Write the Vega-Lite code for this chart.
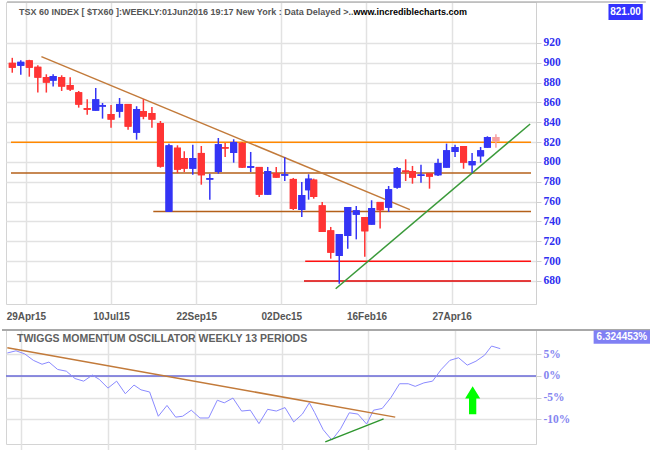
{
  "$schema": "https://vega.github.io/schema/vega-lite/v6.json",
  "background": "white",
  "padding": {"left": 0, "top": 0, "right": 0, "bottom": 0},
  "bounds": "flush",
  "spacing": 26,
  "resolve": {"scale": {"color": "independent"}},
  "config": {
    "view": {"stroke": "#d4d4d4", "strokeWidth": 1},
    "axis": {"gridColor": "#e2e2e2", "gridWidth": 1.5, "title": null}
  },
  "datasets": {
    "candles": [
      {"d": 0, "open": 900, "high": 905, "low": 890, "close": 895},
      {"d": 5, "open": 897, "high": 902.5, "low": 888, "close": 901},
      {"d": 10, "open": 902.5, "high": 903, "low": 886, "close": 895},
      {"d": 15, "open": 896, "high": 897.5, "low": 870, "close": 885},
      {"d": 20, "open": 885.7, "high": 888.4, "low": 870, "close": 880},
      {"d": 24, "open": 882, "high": 888.4, "low": 876, "close": 886.7},
      {"d": 29, "open": 885.7, "high": 887.4, "low": 871.6, "close": 876},
      {"d": 34, "open": 877.6, "high": 885.4, "low": 871.6, "close": 873},
      {"d": 39, "open": 870.3, "high": 871.6, "low": 854.8, "close": 857.8},
      {"d": 44, "open": 854.4, "high": 863.2, "low": 847.7, "close": 852.6},
      {"d": 49, "open": 851.7, "high": 874.6, "low": 851.7, "close": 863.2},
      {"d": 53, "open": 855.8, "high": 859.5, "low": 843.7, "close": 857.3},
      {"d": 58, "open": 848.4, "high": 857.5, "low": 834.6, "close": 842.7},
      {"d": 63, "open": 850.7, "high": 864.5, "low": 844.7, "close": 858.5},
      {"d": 68, "open": 858.5, "high": 858.5, "low": 832.6, "close": 835.6},
      {"d": 73, "open": 829.5, "high": 856.2, "low": 822.5, "close": 853.4},
      {"d": 77, "open": 851.4, "high": 863.2, "low": 843.1, "close": 845.7},
      {"d": 82, "open": 849.4, "high": 855.5, "low": 834.6, "close": 842.7},
      {"d": 87, "open": 839.3, "high": 841.3, "low": 794.3, "close": 795.3},
      {"d": 92, "open": 749.6, "high": 818.5, "low": 749.6, "close": 816.8},
      {"d": 97, "open": 814.4, "high": 816.8, "low": 788.9, "close": 792.2},
      {"d": 101, "open": 804, "high": 810.8, "low": 789.9, "close": 793.2},
      {"d": 106, "open": 793.2, "high": 817.4, "low": 787.2, "close": 804},
      {"d": 111, "open": 809.1, "high": 816.1, "low": 777.1, "close": 786.6},
      {"d": 116, "open": 782.2, "high": 788.2, "low": 762, "close": 783.7},
      {"d": 121, "open": 789.9, "high": 824.2, "low": 788.2, "close": 817.9},
      {"d": 125, "open": 815, "high": 819.2, "low": 805, "close": 813.5},
      {"d": 130, "open": 809.1, "high": 822.9, "low": 799.3, "close": 820.2},
      {"d": 135, "open": 819.2, "high": 820.2, "low": 794, "close": 794.3},
      {"d": 140, "open": 794.2, "high": 810.1, "low": 789.9, "close": 795.8},
      {"d": 145, "open": 795, "high": 795, "low": 764.7, "close": 767},
      {"d": 150, "open": 767, "high": 795, "low": 767, "close": 790.9},
      {"d": 155, "open": 788.9, "high": 795, "low": 784, "close": 784.2},
      {"d": 160, "open": 786.2, "high": 804.7, "low": 780.8, "close": 787.7},
      {"d": 165, "open": 782.9, "high": 783.9, "low": 751.6, "close": 752.6},
      {"d": 170, "open": 751.6, "high": 779.8, "low": 744.5, "close": 766.7},
      {"d": 174, "open": 771.5, "high": 787.6, "low": 762, "close": 783.2},
      {"d": 177, "open": 782.2, "high": 783.2, "low": 763, "close": 764.7},
      {"d": 182, "open": 756.3, "high": 759.7, "low": 729.4, "close": 729.4},
      {"d": 187, "open": 731.1, "high": 734.5, "low": 702.5, "close": 708.5},
      {"d": 192, "open": 705.2, "high": 727.4, "low": 677.3, "close": 727.4},
      {"d": 197, "open": 725.4, "high": 754.6, "low": 712.6, "close": 754.6},
      {"d": 202, "open": 746.8, "high": 755.6, "low": 722, "close": 751.3},
      {"d": 207, "open": 744.5, "high": 744.5, "low": 704.5, "close": 730.1},
      {"d": 211, "open": 736.8, "high": 761.4, "low": 736.8, "close": 753.6},
      {"d": 216, "open": 759.7, "high": 759.7, "low": 732.8, "close": 751.3},
      {"d": 221, "open": 753.9, "high": 775.8, "low": 749.6, "close": 772.5},
      {"d": 226, "open": 774.1, "high": 794.9, "low": 773, "close": 793.9},
      {"d": 231, "open": 791.4, "high": 802.7, "low": 780.8, "close": 789.8},
      {"d": 235, "open": 790.9, "high": 796, "low": 778.1, "close": 784.2},
      {"d": 240, "open": 785.9, "high": 797.3, "low": 779.1, "close": 787.4},
      {"d": 245, "open": 788.6, "high": 788.6, "low": 773.1, "close": 785.2},
      {"d": 250, "open": 786.6, "high": 803.3, "low": 785.9, "close": 799},
      {"d": 255, "open": 794.3, "high": 818.5, "low": 794.3, "close": 811.8},
      {"d": 260, "open": 810.1, "high": 817.4, "low": 805, "close": 815.1},
      {"d": 265, "open": 816.1, "high": 816.1, "low": 793.2, "close": 799.3},
      {"d": 270, "open": 796.7, "high": 809.1, "low": 789.2, "close": 801},
      {"d": 275, "open": 805.7, "high": 815.1, "low": 799.3, "close": 811.8},
      {"d": 279, "open": 814.4, "high": 825.9, "low": 814.4, "close": 825.2},
      {"d": 284, "open": 825.2, "high": 828, "low": 814.4, "close": 821}
    ],
    "osc": [
      {"d": 0, "v": 5.3}, {"d": 5, "v": 5.8}, {"d": 10, "v": 5.1}, {"d": 15, "v": 3.6},
      {"d": 20, "v": 2.7}, {"d": 24, "v": 3.2}, {"d": 29, "v": 1.5}, {"d": 34, "v": 1.1},
      {"d": 39, "v": -0.6}, {"d": 44, "v": -1.2}, {"d": 49, "v": 0.2}, {"d": 53, "v": -0.8},
      {"d": 58, "v": -2.8}, {"d": 63, "v": -1.2}, {"d": 68, "v": -4.1}, {"d": 73, "v": -2.1},
      {"d": 77, "v": -3.2}, {"d": 82, "v": -3.7}, {"d": 87, "v": -9.3}, {"d": 92, "v": -6.8},
      {"d": 97, "v": -9.5}, {"d": 101, "v": -9.3}, {"d": 106, "v": -7.9}, {"d": 111, "v": -9.7},
      {"d": 116, "v": -9.7}, {"d": 121, "v": -5.6}, {"d": 125, "v": -6.2}, {"d": 130, "v": -5.1},
      {"d": 135, "v": -8.1}, {"d": 140, "v": -7.9}, {"d": 145, "v": -11.0}, {"d": 150, "v": -7.7},
      {"d": 155, "v": -8.1}, {"d": 160, "v": -7.3}, {"d": 165, "v": -10.6}, {"d": 170, "v": -8.8},
      {"d": 174, "v": -6.2}, {"d": 177, "v": -8.4}, {"d": 182, "v": -12.4}, {"d": 187, "v": -14.8},
      {"d": 192, "v": -12.2}, {"d": 197, "v": -8.5}, {"d": 202, "v": -8.8}, {"d": 207, "v": -11.1},
      {"d": 211, "v": -7.9}, {"d": 216, "v": -7.5}, {"d": 221, "v": -5.0}, {"d": 226, "v": -1.8},
      {"d": 231, "v": -1.8}, {"d": 235, "v": -2.4}, {"d": 240, "v": -1.6}, {"d": 245, "v": -1.2},
      {"d": 250, "v": 1.5}, {"d": 255, "v": 3.6}, {"d": 260, "v": 4.2}, {"d": 265, "v": 2.5},
      {"d": 270, "v": 3.4}, {"d": 275, "v": 4.8}, {"d": 279, "v": 6.9}, {"d": 284, "v": 6.3}
    ],
    "levels": [
      {"name": "r820", "level": 820, "d": -0.75, "d2": 304.6},
      {"name": "r789", "level": 789, "d": -0.75, "d2": 304.6},
      {"name": "s750", "level": 750, "d": 82.8, "d2": 304.6},
      {"name": "s700", "level": 700, "d": 172, "d2": 304.6},
      {"name": "s680", "level": 680, "d": 171.3, "d2": 304.6}
    ],
    "priceTrends": [
      {"name": "down", "d": 17.1, "v": 906.2}, {"name": "down", "d": 233.5, "v": 751.9},
      {"name": "up", "d": 189.9, "v": 672.2}, {"name": "up", "d": 304.1, "v": 838.3}
    ],
    "oscTrends": [
      {"name": "down", "d": 0, "v": 6.5}, {"name": "down", "d": 223.5, "v": -9.5},
      {"name": "up", "d": 183.2, "v": -15.2}, {"name": "up", "d": 216.8, "v": -9.9}
    ]
  },
  "vconcat": [
    {
      "width": 530,
      "height": 302,
      "resolve": {"scale": {"color": "independent"}},
      "layer": [
        {
          "data": {"name": "candles"},
          "mark": {"type": "bar", "size": 7},
          "encoding": {
            "x": {"field": "d", "type": "quantitative", "scale": {"domain": [-0.75, 304.6], "nice": false, "zero": false},
              "axis": {"title": null, "values": [8, 58, 108, 158, 208, 258], "tickCount": 100, "grid": true, "ticks": false, "tickSize": 0, "domain": false, "labelOverlap": false,
                "labelExpr": "datum.value == 8 ? '29Apr15' : datum.value == 58 ? '10Jul15' : datum.value == 108 ? '22Sep15' : datum.value == 158 ? '02Dec15' : datum.value == 208 ? '16Feb16' : '27Apr16'",
                "labelFont": "Liberation Sans", "labelFontWeight": "bold", "labelFontSize": 10, "labelColor": "#555555", "labelPadding": 7}},
            "y": {"field": "open", "type": "quantitative", "scale": {"domain": [656.8, 961.3], "nice": false, "zero": false},
              "axis": {"title": null, "orient": "right", "values": [680, 700, 720, 740, 760, 780, 800, 820, 840, 860, 880, 900, 920], "tickCount": 100, "grid": true, "labelOverlap": false,
                "labelFont": "Liberation Serif", "labelFontWeight": "bold", "labelFontSize": 11.5, "labelColor": "#3030f0",
                "tickColor": "#d0d0d0", "tickSize": 5, "domainColor": "#d0d0d0", "labelPadding": 2}},
            "y2": {"field": "close"},
            "color": {"condition": [{"test": "datum.d == 284", "value": "#f7a0a0"}, {"test": "datum.close > datum.open", "value": "#3434f5"}], "value": "#ff3434"}
          }
        },
        {
          "data": {"values": [{"d": -3.05, "d2": 372, "v": 961.3}]},
          "mark": {"type": "rule", "color": "#b8b8b8", "strokeWidth": 1.5},
          "encoding": {
            "x": {"field": "d", "type": "quantitative", "scale": {"domain": [-0.75, 304.6], "nice": false, "zero": false}},
            "x2": {"field": "d2"},
            "y": {"field": "v", "type": "quantitative", "scale": {"domain": [656.8, 961.3], "nice": false, "zero": false}}
          }
        },
        {
          "data": {"name": "levels"},
          "mark": {"type": "rule", "strokeWidth": 1.5},
          "encoding": {
            "x": {"field": "d", "type": "quantitative", "scale": {"domain": [-0.75, 304.6], "nice": false, "zero": false}},
            "x2": {"field": "d2"},
            "y": {"field": "level", "type": "quantitative", "scale": {"domain": [656.8, 961.3], "nice": false, "zero": false}},
            "color": {"field": "name", "type": "nominal", "legend": null,
              "scale": {"domain": ["r820", "r789", "s750", "s700", "s680"], "range": ["#ff8800", "#b4601a", "#b4601a", "#ff1010", "#e00000"]}}
          }
        },
        {
          "data": {"name": "priceTrends"},
          "mark": {"type": "line", "strokeWidth": 1.5},
          "encoding": {
            "x": {"field": "d", "type": "quantitative", "scale": {"domain": [-0.75, 304.6], "nice": false, "zero": false}},
            "y": {"field": "v", "type": "quantitative", "scale": {"domain": [656.8, 961.3], "nice": false, "zero": false}},
            "color": {"field": "name", "type": "nominal", "legend": null,
              "scale": {"domain": ["down", "up"], "range": ["#c27a3a", "#3a9a3a"]}}
          }
        },
        {
          "data": {"name": "candles"},
          "mark": {"type": "rule", "strokeWidth": 1.5},
          "encoding": {
            "x": {"field": "d", "type": "quantitative", "scale": {"domain": [-0.75, 304.6], "nice": false, "zero": false}},
            "y": {"field": "low", "type": "quantitative", "scale": {"domain": [656.8, 961.3], "nice": false, "zero": false}},
            "y2": {"field": "high"},
            "color": {"condition": [{"test": "datum.d == 284", "value": "#f7a0a0"}, {"test": "datum.close > datum.open", "value": "#3434f5"}], "value": "#ff3434"}
          }
        },
        {
          "data": {"name": "candles"},
          "mark": {"type": "bar", "size": 7},
          "encoding": {
            "x": {"field": "d", "type": "quantitative", "scale": {"domain": [-0.75, 304.6], "nice": false, "zero": false}},
            "y": {"field": "open", "type": "quantitative", "scale": {"domain": [656.8, 961.3], "nice": false, "zero": false}},
            "y2": {"field": "close"},
            "color": {"condition": [{"test": "datum.d == 284", "value": "#f7a0a0"}, {"test": "datum.close > datum.open", "value": "#3434f5"}], "value": "#ff3434"}
          }
        },
        {
          "data": {"values": [{"d": 3.9, "v": 951, "t": "TSX 60 INDEX [ $TX60 ]:WEEKLY:01Jun2016 19:17 New York : Data Delayed >.."}]},
          "mark": {"type": "text", "align": "left", "baseline": "middle", "font": "Liberation Sans", "fontWeight": "bold", "fontSize": 9, "color": "#555555"},
          "encoding": {
            "x": {"field": "d", "type": "quantitative", "scale": {"domain": [-0.75, 304.6], "nice": false, "zero": false}},
            "y": {"field": "v", "type": "quantitative", "scale": {"domain": [656.8, 961.3], "nice": false, "zero": false}},
            "text": {"field": "t"}
          }
        },
        {
          "data": {"values": [{"d": 200.3, "v": 951, "t": "www.incrediblecharts.com"}]},
          "mark": {"type": "text", "align": "left", "baseline": "middle", "font": "Liberation Sans", "fontWeight": "bold", "fontSize": 9, "color": "#000000"},
          "encoding": {
            "x": {"field": "d", "type": "quantitative", "scale": {"domain": [-0.75, 304.6], "nice": false, "zero": false}},
            "y": {"field": "v", "type": "quantitative", "scale": {"domain": [656.8, 961.3], "nice": false, "zero": false}},
            "text": {"field": "t"}
          }
        },
        {
          "data": {"values": [{"d": 350.1, "d2": 370.2, "v": 943.2, "v2": 959.3}]},
          "mark": {"type": "rect", "color": "#3333ff"},
          "encoding": {
            "x": {"field": "d", "type": "quantitative", "scale": {"domain": [-0.75, 304.6], "nice": false, "zero": false}},
            "x2": {"field": "d2"},
            "y": {"field": "v", "type": "quantitative", "scale": {"domain": [656.8, 961.3], "nice": false, "zero": false}},
            "y2": {"field": "v2"}
          }
        },
        {
          "data": {"values": [{"d": 360.1, "v": 951.2, "t": "821.00"}]},
          "mark": {"type": "text", "align": "center", "baseline": "middle", "font": "Liberation Sans", "fontWeight": "bold", "fontSize": 10, "color": "#ffffff"},
          "encoding": {
            "x": {"field": "d", "type": "quantitative", "scale": {"domain": [-0.75, 304.6], "nice": false, "zero": false}},
            "y": {"field": "v", "type": "quantitative", "scale": {"domain": [656.8, 961.3], "nice": false, "zero": false}},
            "text": {"field": "t"}
          }
        }
      ]
    },
    {
      "width": 530,
      "height": 114,
      "resolve": {"scale": {"color": "independent"}},
      "layer": [
        {
          "data": {"values": [{"v": 0}]},
          "mark": {"type": "rule", "color": "#6a6ad8", "strokeWidth": 1.5},
          "encoding": {
            "y": {"field": "v", "type": "quantitative", "scale": {"domain": [-15.7, 10.6], "nice": false, "zero": false},
              "axis": {"title": null, "orient": "right", "values": [-10, -5, 0, 5], "tickCount": 100, "grid": true, "labelExpr": "datum.value + '%'", "labelOverlap": false,
                "labelFont": "Liberation Serif", "labelFontWeight": "bold", "labelFontSize": 11.5, "labelColor": "#8585f0",
                "tickColor": "#d0d0d0", "tickSize": 5, "domainColor": "#d0d0d0", "labelPadding": 2}}
          }
        },
        {
          "data": {"name": "osc"},
          "mark": {"type": "line", "color": "#8a8aff", "strokeWidth": 1},
          "encoding": {
            "x": {"field": "d", "type": "quantitative", "scale": {"domain": [-0.75, 304.6], "nice": false, "zero": false},
              "axis": {"title": null, "values": [8, 58, 108, 158, 208, 258], "tickCount": 100, "grid": true, "labels": false, "ticks": true, "tickSize": 8, "tickColor": "#e2e2e2", "tickWidth": 1.5, "domain": false}},
            "y": {"field": "v", "type": "quantitative", "scale": {"domain": [-15.7, 10.6], "nice": false, "zero": false}}
          }
        },
        {
          "data": {"values": [{"d": -3.05, "d2": 372, "v": 10.6}]},
          "mark": {"type": "rule", "color": "#a8a8a8", "strokeWidth": 2},
          "encoding": {
            "x": {"field": "d", "type": "quantitative", "scale": {"domain": [-0.75, 304.6], "nice": false, "zero": false}},
            "x2": {"field": "d2"},
            "y": {"field": "v", "type": "quantitative", "scale": {"domain": [-15.7, 10.6], "nice": false, "zero": false}}
          }
        },
        {
          "data": {"name": "oscTrends"},
          "mark": {"type": "line", "strokeWidth": 1.5},
          "encoding": {
            "x": {"field": "d", "type": "quantitative", "scale": {"domain": [-0.75, 304.6], "nice": false, "zero": false}},
            "y": {"field": "v", "type": "quantitative", "scale": {"domain": [-15.7, 10.6], "nice": false, "zero": false}},
            "color": {"field": "name", "type": "nominal", "legend": null,
              "scale": {"domain": ["down", "up"], "range": ["#c27a3a", "#2e962e"]}}
          }
        },
        {
          "data": {"values": [{"d": 268.1, "v": -5.6}]},
          "mark": {"type": "point", "filled": true, "opacity": 1, "color": "#00ff00", "size": 784,
            "shape": "M0,-1L0.54,-0.12L0.26,-0.12L0.26,1L-0.26,1L-0.26,-0.12L-0.54,-0.12Z"},
          "encoding": {
            "x": {"field": "d", "type": "quantitative", "scale": {"domain": [-0.75, 304.6], "nice": false, "zero": false}},
            "y": {"field": "v", "type": "quantitative", "scale": {"domain": [-15.7, 10.6], "nice": false, "zero": false}}
          }
        },
        {
          "data": {"values": [{"d": 5.6, "v": 8.6, "t": "TWIGGS MOMENTUM OSCILLATOR WEEKLY 13 PERIODS"}]},
          "mark": {"type": "text", "align": "left", "baseline": "middle", "font": "Liberation Sans", "fontWeight": "bold", "fontSize": 10.5, "color": "#606060"},
          "encoding": {
            "x": {"field": "d", "type": "quantitative", "scale": {"domain": [-0.75, 304.6], "nice": false, "zero": false}},
            "y": {"field": "v", "type": "quantitative", "scale": {"domain": [-15.7, 10.6], "nice": false, "zero": false}},
            "text": {"field": "t"}
          }
        },
        {
          "data": {"values": [{"d": 337.8, "d2": 370.4, "v": 7.45, "v2": 10.55}]},
          "mark": {"type": "rect", "color": "#8080f4"},
          "encoding": {
            "x": {"field": "d", "type": "quantitative", "scale": {"domain": [-0.75, 304.6], "nice": false, "zero": false}},
            "x2": {"field": "d2"},
            "y": {"field": "v", "type": "quantitative", "scale": {"domain": [-15.7, 10.6], "nice": false, "zero": false}},
            "y2": {"field": "v2"}
          }
        },
        {
          "data": {"values": [{"d": 354.1, "v": 9.0, "t": "6.324453%"}]},
          "mark": {"type": "text", "align": "center", "baseline": "middle", "font": "Liberation Sans", "fontWeight": "bold", "fontSize": 10, "color": "#ffffff"},
          "encoding": {
            "x": {"field": "d", "type": "quantitative", "scale": {"domain": [-0.75, 304.6], "nice": false, "zero": false}},
            "y": {"field": "v", "type": "quantitative", "scale": {"domain": [-15.7, 10.6], "nice": false, "zero": false}},
            "text": {"field": "t"}
          }
        }
      ]
    }
  ]
}
